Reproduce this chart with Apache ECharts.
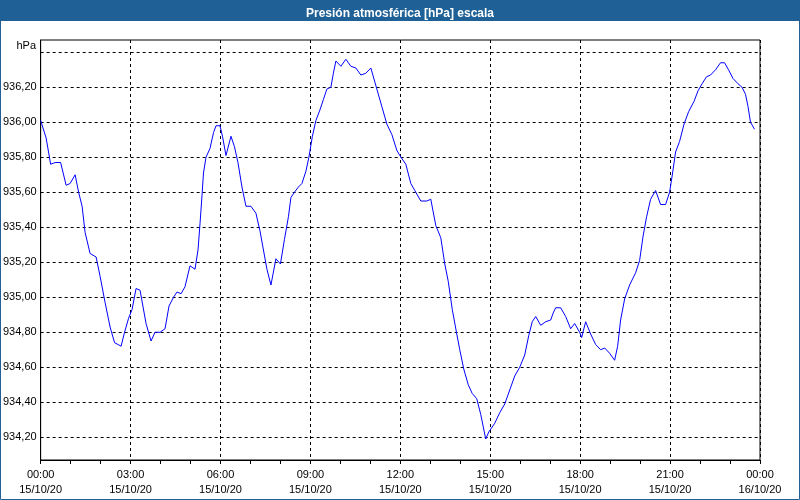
<!DOCTYPE html>
<html>
<head>
<meta charset="utf-8">
<script src="https://cdn.jsdelivr.net/npm/echarts@6/dist/echarts.min.js"></script>
<style>
html,body{margin:0;padding:0;background:#ffffff;}
#chart{width:800px;height:500px;}
</style>
</head>
<body>
<div id="chart"></div>
<script>
// minutes since 15/10/20 00:00
var times = [0,11,20,29,40,51,59,69,76,83,89,99,111,119,129,139,148,155,161,168,176,183,191,199,211,221,229,239,249,257,266,273,281,289,299,309,315,319,323,326,331,339,346,351,359,
364,371,381,388,395,403,411,421,431,439,446,453,461,471,480,488,496,501,508,516,523,531,537,544,551,559,566,573,581,586,591,601,611,621,631,641,651,661,673,683,693,703,713,719,
731,741,749,761,773,781,791,801,809,816,824,833,839,847,856,864,873,881,886,891,897,909,919,929,939,949,959,969,977,984,991,1001,1011,1021,1026,1031,1041,1051,1061,1069,1079,
1083,1091,1101,1111,1121,1129,1139,1149,1155,1161,1169,1179,1191,1199,1206,1213,1221,1231,1241,1251,1259,1265,1271,1279,1288,1297,1308,1316,1324,1333,1341,1351,1361,1369,1377,1386,1396,1404,1411,1416,1421,1429];
var pressure = [936.01,935.91,935.76,935.77,935.77,935.64,935.65,935.70,935.60,935.52,935.37,935.25,935.23,935.12,934.97,934.83,934.74,934.73,934.72,934.80,934.88,934.93,935.05,935.04,934.85,934.75,934.80,934.80,934.82,934.95,935.00,935.03,935.02,935.06,935.18,935.16,935.27,935.42,935.58,935.71,935.80,935.85,935.94,935.98,935.98,
935.92,935.81,935.92,935.86,935.77,935.63,935.52,935.52,935.48,935.38,935.27,935.16,935.07,935.22,935.19,935.33,935.46,935.57,935.60,935.63,935.65,935.72,935.80,935.92,936.01,936.07,936.13,936.19,936.20,936.28,936.35,936.32,936.36,936.32,936.31,936.27,936.28,936.31,936.19,936.09,935.99,935.93,935.84,935.81,
935.76,935.65,935.61,935.55,935.55,935.56,935.41,935.34,935.19,935.09,934.93,934.79,934.70,934.59,934.50,934.45,934.42,934.33,934.26,934.19,934.23,934.28,934.34,934.39,934.47,934.55,934.60,934.67,934.78,934.86,934.89,934.84,934.86,934.87,934.91,934.94,934.94,934.89,934.82,934.85,934.80,
934.77,934.86,934.79,934.73,934.70,934.71,934.68,934.64,934.72,934.87,934.99,935.07,935.14,935.21,935.35,935.46,935.56,935.61,935.53,935.53,935.60,935.71,935.83,935.89,935.99,936.06,936.12,936.18,936.22,936.26,936.27,936.30,936.34,936.34,936.30,936.25,936.22,936.20,936.16,936.09,936.00,935.96];
// horizontal grid values and labelled y ticks
var yGridValues = [934.2,934.4,934.6,934.8,935.0,935.2,935.4,935.6,935.8,936.0,936.2,936.4];
var yLabelValues = [934.2,934.4,934.6,934.8,935.0,935.2,935.4,935.6,935.8,936.0,936.2];
var titleText = 'Presión atmosférica [hPa] escala';
var unitLabel = 'hPa';
var startDate = '15/10/20';
var endDate = '16/10/20';

var chart = echarts.init(document.getElementById('chart'), null, {renderer:'canvas'});
var data = times.map(function(t,i){return [t, pressure[i]];});
var FONT = '"Liberation Sans", Arial, sans-serif';

function pad(n){return (n<10?'0':'')+n;}

chart.setOption({
  animation:false,
  backgroundColor:'#ffffff',
  title:{
    text:titleText, left:'center', top:3,
    textStyle:{color:'#ffffff', fontWeight:'bold', fontSize:12, fontFamily:FONT}
  },
  graphic:[
    {type:'rect', z:-10, shape:{x:0,y:0,width:800,height:21}, style:{fill:'#1f6096'}},
    {type:'rect', z:100, shape:{x:0.5,y:0.5,width:799,height:499}, style:{fill:'none', stroke:'#1f6096', lineWidth:1}},
    {type:'text', z:50, style:{text:unitLabel, x:36, y:46, align:'right', verticalAlign:'middle', fill:'#000', font:'11px "Liberation Sans", Arial, sans-serif'}}
  ],
  grid:{left:40, right:40, top:40, bottom:40, show:true, borderColor:'#000', borderWidth:1, backgroundColor:'#ffffff'},
  xAxis:{
    type:'value', min:0, max:1440, interval:180,
    axisLine:{show:true, lineStyle:{color:'#000', width:1}},
    axisTick:{show:true, length:4, lineStyle:{color:'#000'}},
    minorTick:{show:true, splitNumber:3, length:4, lineStyle:{color:'#000'}},
    splitLine:{show:true, lineStyle:{color:'#000', type:[3,3], width:1}},
    axisLabel:{
      color:'#000', fontSize:11, fontFamily:FONT, lineHeight:15, margin:7,
      showMinLabel:true, showMaxLabel:true,
      formatter:function(v){
        var h = Math.floor(v/60)%24, m = v%60;
        return pad(h)+':'+pad(m)+'\n'+(v>=1440?endDate:startDate);
      }
    }
  },
  yAxis:{
    type:'value', min:934.07, max:936.47, interval:0.01,
    axisLine:{show:true, lineStyle:{color:'#000', width:1}},
    axisTick:{show:false},
    splitLine:{show:false},
    axisLabel:{
      color:'#000', fontSize:11, fontFamily:FONT, margin:4,
      showMinLabel:true, showMaxLabel:true,
      formatter:function(v){
        for (var i=0;i<yLabelValues.length;i++){
          if (Math.abs(yLabelValues[i]-v)<0.001) return yLabelValues[i].toFixed(2).replace('.',',');
        }
        return '';
      }
    }
  },
  series:[{
    type:'line', data:data, showSymbol:false, symbol:'none',
    lineStyle:{color:'#0000ff', width:1}, silent:true, z:3,
    markLine:{
      silent:true, symbol:'none', z:1,
      label:{show:false},
      lineStyle:{color:'#000', type:[3,3], width:1},
      emphasis:{disabled:true},
      data:yGridValues.map(function(v){return {yAxis:v};})
    }
  }]
});
</script>
</body>
</html>
